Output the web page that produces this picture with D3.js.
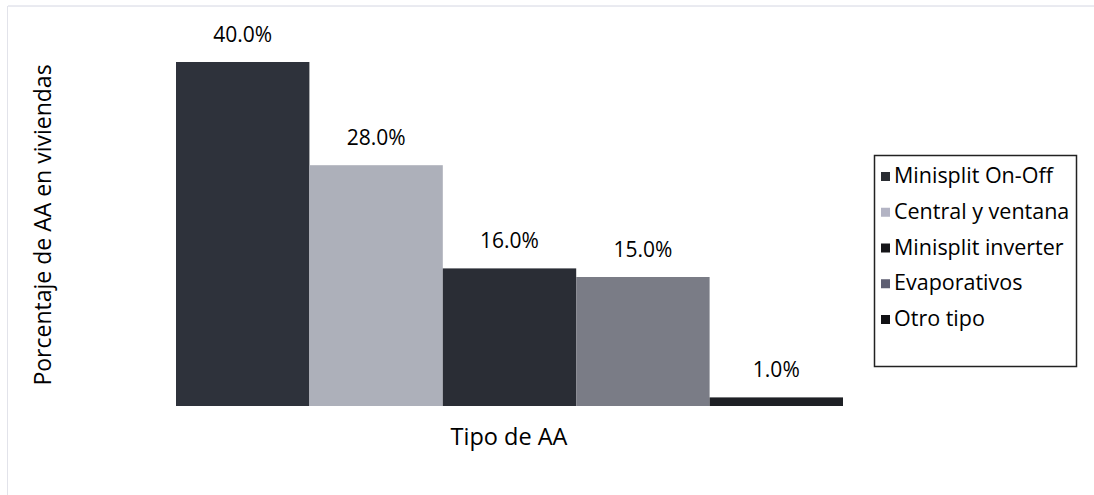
<!DOCTYPE html>
<html><head><meta charset="utf-8">
<script src="https://cdn.jsdelivr.net/npm/d3@7"></script>
<style>body{margin:0;background:#fff}svg{display:block}text{font-family:"Open Sans","Noto Sans",sans-serif;fill:#000}</style>
</head><body><svg id="c" width="1094" height="495"></svg>
<script>
const categories = ["Minisplit On-Off","Central y ventana","Minisplit inverter","Evaporativos","Otro tipo"];
const values = [40.0, 28.0, 16.0, 15.0, 1.0];
const colors = ["#2e323b","#adb0ba","#2a2d35","#7a7c86","#1e2025"];
const legendColors = ["#2a2d33","#b3b4c4","#151518","#5d5e72","#111114"];
const yTitle = "Porcentaje de AA en viviendas";
const xTitle = "Tipo de AA";

const svg = d3.select("#c");
// faint page border
svg.append("line").attr("x1",8).attr("x2",1094).attr("y1",6).attr("y2",6).attr("stroke","#d4d6e2").attr("stroke-width",1);
svg.append("line").attr("x1",7.5).attr("x2",7.5).attr("y1",6).attr("y2",495).attr("stroke","#e2e3ea").attr("stroke-width",1);

const x = d3.scaleBand().domain(categories).range([176,843]).paddingInner(0).paddingOuter(0);
const y = d3.scaleLinear().domain([0,40]).range([406,62]);

svg.selectAll("rect.bar").data(values).join("rect").attr("class","bar")
  .attr("x",(d,i)=>x(categories[i])).attr("width",x.bandwidth())
  .attr("y",d=>y(d)).attr("height",d=>y(0)-y(d))
  .attr("fill",(d,i)=>colors[i]);

svg.selectAll("text.lbl").data(values).join("text").attr("class","lbl")
  .attr("x",(d,i)=>x(categories[i])+x.bandwidth()/2).attr("y",d=>y(d)-20)
  .attr("text-anchor","middle").attr("font-size",21).text(d=>d.toFixed(1)+"%");

svg.append("text").attr("transform","translate(51,225) rotate(-90)").attr("text-anchor","middle")
  .attr("font-size",23).text(yTitle);
svg.append("text").attr("x",509).attr("y",445).attr("text-anchor","middle").attr("font-size",23.5).text(xTitle);

// legend
const lg = svg.append("g");
lg.append("rect").attr("x",874.5).attr("y",155.5).attr("width",202).attr("height",211).attr("fill","#fff").attr("stroke","#222").attr("stroke-width",1.5);
const ly = d3.scalePoint().domain(categories).range([176,319]);
lg.selectAll("rect.sw").data(categories).join("rect").attr("class","sw")
  .attr("x",881).attr("y",d=>ly(d)-4).attr("width",9).attr("height",9).attr("fill",(d,i)=>legendColors[i]);
lg.selectAll("text.lt").data(categories).join("text").attr("class","lt")
  .attr("x",894).attr("y",d=>ly(d)+7).attr("font-size",21.5).text(d=>d);
</script></body></html>
